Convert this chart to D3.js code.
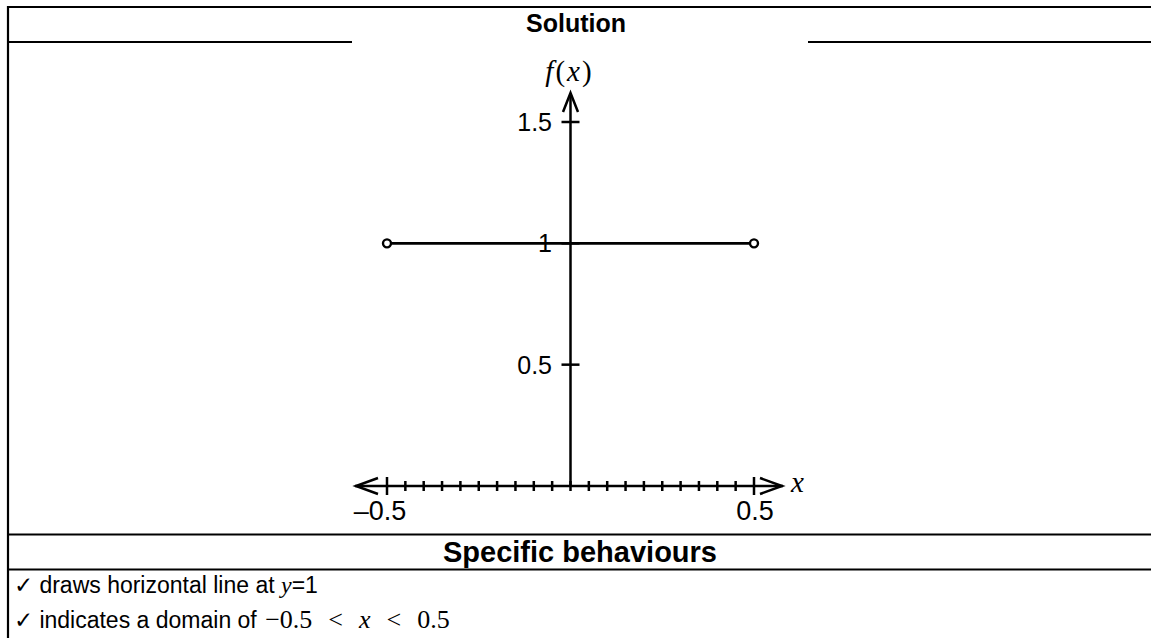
<!DOCTYPE html>
<html>
<head>
<meta charset="utf-8">
<script src="https://cdn.jsdelivr.net/npm/d3@7"></script>
<style>
  body { margin: 0; background: #fff; }
  svg { display: block; }
</style>
</head>
<body>
<script>
// page size
var w = 1151;
var h = 638;

// chart data
var lineX = [-0.5, 0.5];          // domain ends of the segment
var lineY = [1, 1];               // f(x) = 1
var openX = [-0.5, 0.5];          // open circles at the ends
var yTicks = [0.5, 1, 1.5];
var yTickLabels = ["0.5", "1", "1.5"];
var xMajor = [-0.5, 0.5];
var xMajorLabels = ["\u20130.5", "0.5"];
var behaviours = ["draws horizontal line at ", "indicates a domain of "];
var domainParts = ["\u22120.5", "<", "x", "<", "0.5"];

var svg = d3.select("body")
            .append("svg")
            .attr("width", w)
            .attr("height", h);

// table lines
var ink = "#000";
function hline(x1, x2, y) {
    svg.append("line").attr("x1", x1).attr("x2", x2).attr("y1", y).attr("y2", y)
       .attr("stroke", ink).attr("stroke-width", 2.2);
}
hline(7, w, 7);
hline(7, 352, 42);
hline(808, w, 42);
hline(7, w, 534.5);
hline(7, w, 569.5);
svg.append("line").attr("x1", 8).attr("x2", 8).attr("y1", 6).attr("y2", h)
   .attr("stroke", ink).attr("stroke-width", 2.2);

// headings
svg.append("text").attr("x", 576).attr("y", 32)
   .attr("text-anchor", "middle")
   .style("font", "bold 25px 'Liberation Sans', Arial, sans-serif")
   .text("Solution");
svg.append("text").attr("x", 580).attr("y", 562)
   .attr("text-anchor", "middle")
   .style("font", "bold 29px 'Liberation Sans', Arial, sans-serif")
   .text("Specific behaviours");

// scales
var xScale = d3.scaleLinear().domain([-0.5, 0.5]).range([387, 754]);
var yScale = d3.scaleLinear().domain([0, 1.5]).range([486, 122]);
var x0 = xScale(0), y0 = yScale(0);

var axes = svg.append("g").attr("stroke", ink).attr("stroke-width", 2.5).attr("fill", "none");

// x axis with arrows both ends
axes.append("line").attr("x1", 355).attr("x2", 783).attr("y1", y0).attr("y2", y0);
axes.append("path").attr("d", "M378," + (y0 - 8) + "L356," + y0 + "L378," + (y0 + 8));
axes.append("path").attr("d", "M760," + (y0 - 8) + "L782," + y0 + "L760," + (y0 + 8));

// minor ticks every 0.05
var minor = xScale.ticks(20);
axes.selectAll(".minor")
    .data(minor)
    .enter()
    .append("line")
    .attr("x1", function(d) { return xScale(d); })
    .attr("x2", function(d) { return xScale(d); })
    .attr("y1", function(d) { return Math.abs(Math.abs(d) - 0.5) < 1e-9 ? y0 - 9 : y0 - 5; })
    .attr("y2", function(d) { return Math.abs(Math.abs(d) - 0.5) < 1e-9 ? y0 + 9 : y0 + 5; });

// y axis with arrow at top
axes.append("line").attr("x1", x0).attr("x2", x0).attr("y1", y0).attr("y2", 93);
axes.append("path").attr("d", "M" + (x0 - 7.5) + ",112L" + x0 + ",93L" + (x0 + 7.5) + ",112");
axes.selectAll(".ytick")
    .data(yTicks)
    .enter()
    .append("line")
    .attr("x1", x0 - 9).attr("x2", x0 + 9)
    .attr("y1", function(d) { return yScale(d); })
    .attr("y2", function(d) { return yScale(d); });

svg.selectAll(".ylab")
    .data(yTicks)
    .enter()
    .append("text")
    .attr("x", 552)
    .attr("y", function(d) { return yScale(d) + 9; })
    .attr("text-anchor", "end")
    .style("font", "25px 'Liberation Sans', Arial, sans-serif")
    .text(function(d, i) { return yTickLabels[i]; });

svg.selectAll(".xlab")
    .data(xMajor)
    .enter()
    .append("text")
    .attr("x", function(d) { return xScale(d) + (d < 0 ? -7 : 1); })
    .attr("y", 520)
    .attr("text-anchor", "middle")
    .style("font", "27px 'Liberation Sans', Arial, sans-serif")
    .text(function(d, i) { return xMajorLabels[i]; });

// axis titles
var mathFont = "italic 29px 'Liberation Serif', 'Times New Roman', serif";
svg.append("text").attr("x", 791).attr("y", 492)
   .style("font", mathFont).text("x");
var fx = svg.append("text").attr("x", x0 - 1).attr("y", 81)
   .attr("text-anchor", "middle").style("font", mathFont)
   .style("letter-spacing", "2px");
fx.append("tspan").text("f");
fx.append("tspan").style("font-style", "normal").text("(");
fx.append("tspan").text("x");
fx.append("tspan").style("font-style", "normal").text(")");

// the function: horizontal segment with open ends
var line = d3.line()
    .x(function(d) { return xScale(d[0]); })
    .y(function(d) { return yScale(d[1]); });
svg.append("path")
   .datum(d3.zip(lineX, lineY))
   .attr("d", line)
   .attr("fill", "none").attr("stroke", ink).attr("stroke-width", 2.6);
svg.selectAll(".open")
    .data(openX)
    .enter()
    .append("circle")
    .attr("cx", function(d) { return xScale(d); })
    .attr("cy", yScale(1))
    .attr("r", 4)
    .attr("fill", "#fff").attr("stroke", ink).attr("stroke-width", 2.4);

// behaviour lines
var bodyFont = "23px 'Liberation Sans', Arial, sans-serif";
var serif = "'Liberation Serif', 'Times New Roman', serif";
var t1 = svg.append("text").attr("x", 14).attr("y", 593).style("font", bodyFont);
t1.append("tspan").text("\u2713 " + behaviours[0]);
t1.append("tspan").style("font-family", serif).style("font-style", "italic")
  .style("font-size", "24px").text("y");
t1.append("tspan").text("=1");

var t2 = svg.append("text").attr("x", 14).attr("y", 628).style("font", bodyFont);
t2.append("tspan").text("\u2713 " + behaviours[1]);
t2.selectAll(".m")
  .data(domainParts)
  .enter()
  .append("tspan")
  .attr("dx", function(d, i) { return i === 0 ? 2 : 16; })
  .style("font-family", serif)
  .style("font-size", "26px")
  .style("font-style", function(d) { return d === "x" ? "italic" : "normal"; })
  .text(function(d) { return d; });
</script>
</body>
</html>
